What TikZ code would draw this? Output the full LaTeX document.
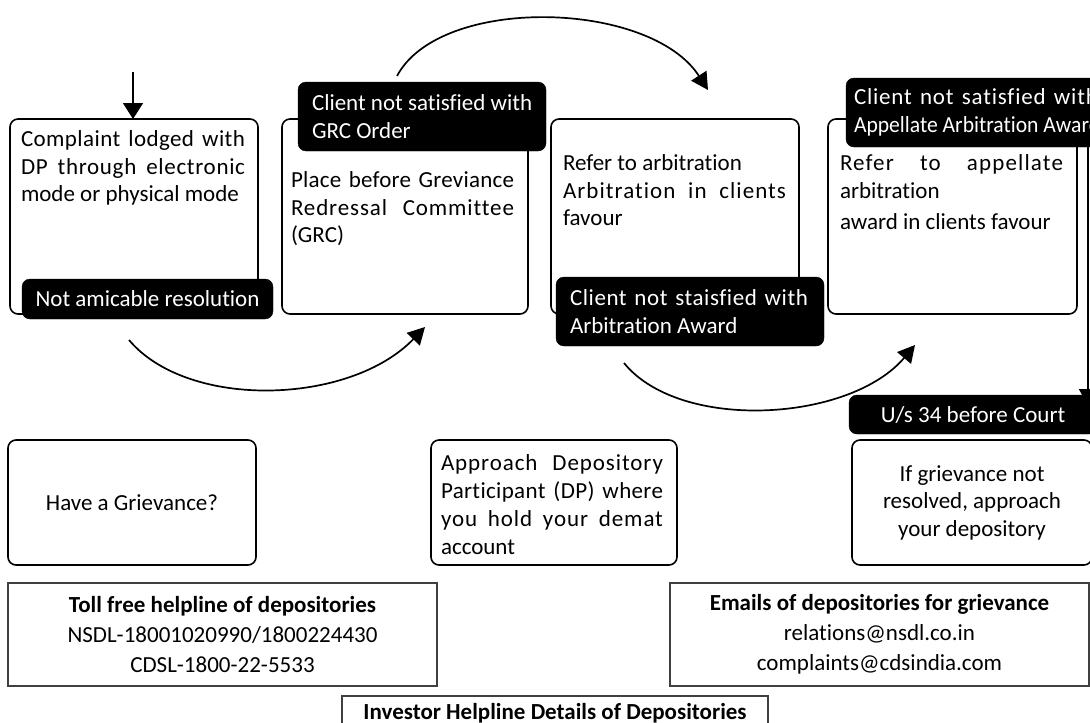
\documentclass[tikz,border=0pt]{standalone}
\usepackage{fontspec}
\setmainfont{Carlito}[Ligatures=CommonOff]
\usetikzlibrary{arrows.meta}
\newcommand\jl[3][0]{\makebox[#2][s]{\addfontfeature{LetterSpace=#1}\spaceskip=0pt\xspaceskip=0pt\relax #3}}
\begin{document}
\begin{tikzpicture}[x=1pt,y=-1pt,
  every node/.style={inner sep=0pt, outer sep=0pt, execute at begin node={\spaceskip=0pt\xspaceskip=0pt\relax}},
  box/.style={draw=black, line width=1.6pt, rounded corners=8pt, fill=white, anchor=north west, font=\fontsize{23}{27.5}\selectfont},
  tag/.style={fill=black, draw=black, rounded corners=8pt, text=white, anchor=north west, font=\fontsize{23}{27.5}\selectfont},
  txt/.style={anchor=base west, align=left, font=\fontsize{23}{27.5}\selectfont},
  infobox/.style={draw=black!75, line width=1.4pt, fill=white, anchor=north west, align=center, font=\fontsize{23}{30}\selectfont},
  arr/.style={line width=1.7pt, -{Triangle[length=17pt,width=18pt]}},
]
\useasboundingbox (0,0) rectangle (1090,723);
\clip (0,0) rectangle (1090,723);
\fill[white] (0,0) rectangle (1090,723);

% upper row of boxes
\node[box, minimum width=248pt, minimum height=195pt] (b1) at (10,119) {};
\node[box, minimum width=246pt, minimum height=195pt] (b2) at (282,119) {};
\node[box, minimum width=248pt, minimum height=195pt] (b3) at (551,119) {};
\node[box, minimum width=249pt, minimum height=195pt] (b4) at (828,119) {};

\node[txt, text width=224pt] (t1) at (21,146.5) {\jl[1.8]{224pt}{Complaint lodged with}\\\jl[3]{224pt}{DP through electronic}\\\mbox{mode or physical mode}};
\node[txt, text width=223pt] (t2) at (291,187.5) {\jl[1]{223pt}{Place before Greviance}\\\jl[3.8]{223pt}{Redressal Committee}\\(GRC)};
\node[txt, text width=223pt] (t3) at (563,170.5) {\mbox{Refer to arbitration}\\\jl[4.6]{223pt}{Arbitration in clients}\\favour};
\node[txt, text width=223pt] (t4) at (840,170.5) {\jl[5]{223pt}{Refer to appellate}\\arbitration\\[3.5pt]\mbox{award in clients favour}};

% black tags
\node[tag, minimum width=251pt, minimum height=40pt] (l1) at (22,279) {Not amicable resolution};
\node[tag, minimum height=69pt, text width=220pt, align=left, inner xsep=14pt] (l2) at (298,82) {\mbox{Client not satisfied with}\\GRC Order};
\node[tag, minimum height=69pt, text width=240pt, align=left, inner xsep=14pt] (l3) at (556,277) {\jl[2.5]{238pt}{Client not staisfied with}\\\mbox{Arbitration Award}};
\node[tag, minimum height=69pt, text width=250pt, align=left, inner xsep=8pt] (l4) at (846,78) {\jl[3.5]{244pt}{Client not satisfied with}\\\scalebox{0.94}[1]{Appellate Arbitration Award}};

% arrows
\coordinate (s0) at (133,72);
\draw[arr, -{Triangle[length=16pt,width=20pt]}] (s0) -- (b1.north -| s0);
\coordinate (a1) at (397,76);
\coordinate (a2) at (708,90);
\draw[arr] (a1) .. controls (440,-5) and (650,0) .. (a2);
\coordinate (c1) at (129,340);
\coordinate (c2) at (425,327);
\draw[arr] (c1) .. controls (188,410) and (350,405) .. (c2);
\coordinate (d1) at (624,363);
\coordinate (d2) at (915,345);
\draw[arr] (d1) .. controls (680,432) and (850,422) .. (d2);
\coordinate (r1) at (1088,147);
\coordinate (r2) at (1088,406);
\draw[arr] (r1) -- (r2);
\node[tag, minimum width=248pt, minimum height=39pt] (l5) at (849,395) {U/s 34 before Court};

% lower row
\node[box, minimum width=248pt, minimum height=125pt, align=center] (g) at (8,440) {Have a Grievance?};
\node[box, minimum width=246pt, minimum height=125pt] (ap) at (431,440) {};
\node[txt, text width=222pt, font=\fontsize{23}{28}\selectfont] (t5) at (441,470.5) {\jl[4]{222pt}{Approach Depository}\\\jl[1.5]{222pt}{Participant (DP) where}\\\jl[4]{222pt}{you hold your demat}\\account};
\node[box, minimum width=240pt, minimum height=125pt, align=center] (ig) at (852,440) {If grievance not\\resolved, approach\\your depository};

% info boxes
\node[infobox, minimum width=429pt, minimum height=103pt] (toll) at (8,583) {\textbf{Toll free helpline of depositories}\\NSDL-18001020990/1800224430\\CDSL-1800-22-5533};
\node[infobox, minimum width=419pt, minimum height=103pt] (em) at (670,583) {\textbf{Emails of depositories for grievance}\\relations@nsdl.co.in\\complaints@cdsindia.com};
\node[infobox, minimum width=426pt, minimum height=34pt] (inv) at (342,696) {\textbf{Investor Helpline Details of Depositories}};
\end{tikzpicture}
\end{document}
